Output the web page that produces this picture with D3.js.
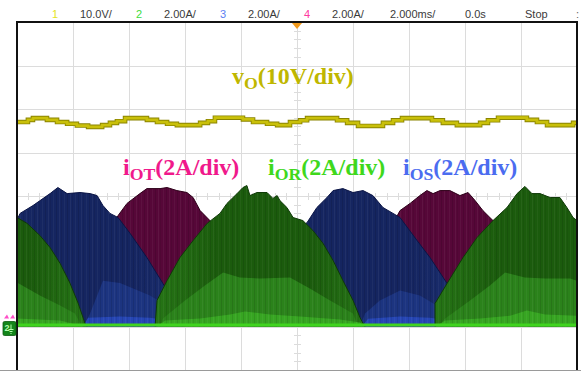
<!DOCTYPE html>
<html>
<head>
<meta charset="utf-8">
<script src="https://cdn.jsdelivr.net/npm/d3@7"></script>
<style>
  html, body { margin: 0; padding: 0; background: #fff; overflow: hidden; }
  svg { display: block; }
</style>
</head>
<body>
<svg id="scope" width="581" height="371"></svg>
<script>
// ---- Scope settings shown in the header ----
const channelIds = ["1", "2", "3", "4"];
const channelScales = ["10.0V/", "2.00A/", "2.00A/", "2.00A/"];
const timebaseLabel = "2.000ms/";
const delayLabel = "0.0s";
const runStateLabel = "Stop";

// ---- Trace labels ----
const traceSymbols = ["v", "i", "i", "i"];
const traceSubscripts = ["O", "OT", "OR", "OS"];
const traceUnits = ["(10V/div)", "(2A/div)", "(2A/div)", "(2A/div)"];

// ---- Vertical / horizontal settings ----
const voltsPerDiv = 10;
const ampsPerDiv = 2;
const msPerDiv = 2;
const timeWindow = [-10, 10];        // ms, 10 divisions
const rectifierPeriod = 10;          // ms, one cycle of the phase currents

// ---- Output voltage vo (V), stepped record, [t ms, V] ----
const voSteps = [
  [-10.0, 57.0], [-9.61, 57.5], [-9.43, 57.9], [-8.93, 57.5], [-8.57, 57.0],
  [-8.21, 56.6], [-7.86, 56.2], [-7.46, 55.9], [-6.96, 56.3], [-6.68, 56.8],
  [-6.43, 57.2], [-6.14, 57.9], [-5.36, 57.5], [-5.0, 57.0], [-4.64, 56.6],
  [-4.29, 56.3], [-3.46, 56.8], [-3.18, 57.2], [-2.93, 58.0], [-1.93, 57.6],
  [-1.57, 57.0], [-1.07, 56.6], [-0.71, 56.3], [-0.25, 57.0], [0.11, 57.4],
  [0.36, 57.9], [1.43, 57.4], [1.79, 56.8], [2.18, 56.1], [3.07, 56.8],
  [3.43, 57.4], [3.75, 57.9], [4.82, 57.4], [5.21, 56.8], [5.71, 56.3],
  [6.54, 56.8], [6.82, 57.4], [7.18, 58.0], [8.21, 57.5], [8.57, 57.0],
  [8.93, 56.3], [9.86, 56.8], [10.0, 56.8]
];

// ---- Phase currents: peak envelope of each conduction pulse, [t ms, A] ----
const iotPeak = [
  [[-8.43, 0], [-8.29, 1.06], [-7.86, 2.11], [-7.39, 3.17], [-6.86, 4.05], [-6.39, 5.1],
   [-6.07, 5.66], [-5.61, 6.11], [-5.36, 6.34], [-4.89, 6.34], [-4.64, 6.39], [-4.29, 6.25],
   [-3.93, 6.16], [-3.71, 5.93], [-3.46, 5.33], [-3.11, 4.87], [-2.57, 3.95], [-2.04, 2.94],
   [-1.5, 1.79], [-1.14, 0.97], [-0.89, 0.37], [-0.75, 0]],
  [[1.57, 0], [1.71, 1.06], [2.14, 2.11], [2.61, 3.17], [3.14, 4.05], [3.68, 5.33],
   [4.04, 5.66], [4.39, 6.02], [4.64, 6.25], [4.86, 6.11], [5.11, 6.25], [5.46, 6.25],
   [5.82, 6.02], [6.11, 6.16], [6.36, 5.79], [6.64, 5.33], [6.89, 5.01], [7.0, 4.87],
   [7.43, 3.95], [7.96, 2.94], [8.5, 1.79], [8.86, 0.97], [9.11, 0.37], [9.25, 0]]
];
const iosPeak = [
  [[-10, 4.9], [-9.89, 5.2], [-9.43, 5.56], [-8.82, 6.11], [-8.54, 6.39], [-8.21, 6.11],
   [-7.75, 6.16], [-7.39, 6.11], [-7.14, 6.02], [-6.93, 5.56], [-6.68, 5.2], [-6.39, 5.01],
   [-5.96, 4.28], [-5.36, 3.17], [-4.79, 1.98], [-4.36, 1.0], [-4.11, 0.3], [-4.0, 0]],
  [[-1.75, 0], [-1.68, 1.06], [-1.25, 2.11], [-0.79, 3.17], [-0.25, 4.05], [0.36, 4.78],
   [0.71, 5.47], [1.07, 5.93], [1.29, 6.25], [1.64, 6.34], [2.0, 6.16], [2.36, 6.25],
   [2.71, 6.02], [3.07, 5.47], [3.43, 5.2], [3.68, 5.01], [4.29, 3.95], [4.75, 3.17],
   [5.36, 1.98], [5.75, 1.06], [6.0, 0.37], [6.1, 0]],
  [[8.25, 0], [8.32, 1.06], [8.75, 2.11], [9.21, 3.17], [9.75, 4.05], [10, 4.4]]
];
const iorPeak = [
  [[-10, 5.01], [-9.64, 4.74], [-9.18, 4.18], [-8.82, 3.63], [-8.46, 2.9], [-8.11, 2.0],
   [-7.82, 1.08], [-7.57, 0.14], [-7.5, 0]],
  [[-5.07, 0], [-5.0, 1.2], [-4.64, 2.11], [-4.18, 3.17], [-3.71, 3.95], [-3.21, 4.74],
   [-2.75, 5.2], [-2.5, 5.66], [-2.14, 6.11], [-1.93, 6.39], [-1.79, 6.48], [-1.68, 6.02],
   [-1.43, 6.16], [-1.07, 6.16], [-0.86, 5.89], [-0.71, 6.02], [-0.61, 5.79], [-0.36, 5.47],
   [-0.14, 5.01], [0.21, 4.87], [0.57, 4.41], [0.93, 3.82], [1.29, 3.03], [1.64, 2.11],
   [2.0, 1.2], [2.25, 0.41], [2.36, 0.14], [2.43, 0]],
  [[4.93, 0], [4.93, 1.06], [5.36, 1.98], [5.93, 3.17], [6.43, 4.09], [7.0, 4.87],
   [7.5, 5.47], [7.86, 6.11], [8.14, 6.44], [8.39, 6.11], [8.68, 6.11], [9.04, 5.93],
   [9.39, 5.93], [9.64, 5.47], [9.86, 5.01], [10, 4.87]]
];

// ---- Mean current band (brighter persistence), [t ms, A] ----
const iosMean = [
  [[-7.61, 0], [-7.39, 0.6], [-6.93, 2.1], [-6.32, 2.0], [-5.25, 1.43], [-4.36, 0.74], [-4.07, 0]],
  [[2.25, 0], [2.43, 0.6], [2.96, 1.2], [3.68, 1.66], [4.39, 1.43], [5.29, 0.74], [5.93, 0]]
];
const iorMean = [
  [[-10, 2.02], [-9.18, 1.43], [-8.46, 0.97], [-7.93, 0.6], [-7.68, 0]],
  [[-4.89, 0], [-4.79, 0.37], [-4.0, 1.2], [-3.29, 1.89], [-2.64, 2.48], [-2.04, 2.25],
   [-1.32, 2.21], [-0.25, 2.25], [0.46, 1.75], [1.18, 1.2], [2.0, 0.6], [2.18, 0]],
  [[5.04, 0], [5.29, 0.37], [6.18, 1.2], [6.89, 1.89], [7.43, 2.48], [8.14, 2.25],
   [8.86, 2.21], [9.75, 2.21], [10, 2.1]]
];

// ---- Low-level ripple floor of each pulse, [t ms, A] ----
const iosFloor = [
  [[-7.64, 0], [-7.46, 0.4], [-6.32, 0.46], [-5.25, 0.4], [-4.36, 0.24], [-4.04, 0]],
  [[2.32, 0], [2.54, 0.36], [3.68, 0.46], [4.75, 0.4], [5.64, 0.24], [6.0, 0]]
];
const iorFloor = [
  [[-10, 0.37], [-8.46, 0.28], [-7.61, 0]],
  [[-5.0, 0], [-4.71, 0.28], [-3.46, 0.37], [-2.39, 0.55], [-1.86, 0.69], [-0.96, 0.55],
   [0.11, 0.46], [1.54, 0.32], [2.25, 0.18], [2.39, 0]],
  [[4.96, 0], [5.29, 0.28], [6.54, 0.37], [7.61, 0.5], [8.21, 0.74], [8.86, 0.55], [10, 0.5]]
];

// ================= drawing =================
const svg = d3.select("#scope");
const W = 581, H = 371;
const frame = { left: 17, right: 577, top: 22, bottom: 370 };

const x = d3.scaleLinear().domain(timeWindow).range([frame.left, frame.right]);
const div = d3.scaleLinear().domain([-4, 4]).range([frame.bottom, frame.top]);
const currentGroundDiv = -3;
const voltageGroundDiv = -4;
const yI = d3.scaleLinear().domain([0, ampsPerDiv])
  .range([div(currentGroundDiv), div(currentGroundDiv + 1)]);
const yV = d3.scaleLinear().domain([0, voltsPerDiv])
  .range([div(voltageGroundDiv), div(voltageGroundDiv + 1)]);

svg.append("rect").attr("width", W).attr("height", H).attr("fill", "#fff");

const defs = svg.append("defs");
defs.append("clipPath").attr("id", "plotClip")
  .append("rect")
  .attr("x", frame.left).attr("y", frame.top)
  .attr("width", frame.right - frame.left).attr("height", frame.bottom - frame.top);

// vertical acquisition streaks laid over the filled pulses
const streak = defs.append("pattern").attr("id", "streaks")
  .attr("patternUnits", "userSpaceOnUse").attr("width", 11).attr("height", 10);
[[1, "#000", 0.10], [4, "#fff", 0.05], [6, "#000", 0.07], [9, "#fff", 0.04]].forEach(([px, c, o]) => {
  streak.append("rect").attr("x", px).attr("y", 0).attr("width", 1).attr("height", 10)
    .attr("fill", c).attr("fill-opacity", o);
});

// ---- header ----
const header = svg.append("g")
  .attr("font-family", "'Liberation Sans', Arial, sans-serif")
  .attr("font-size", 11);
const chColors = ["#e4e41a", "#3ddc3d", "#5b7ef2", "#ff3aa0"];
channelIds.forEach((id, i) => {
  const cx = 55 + 84 * i;
  header.append("text").attr("x", cx).attr("y", 18).attr("text-anchor", "middle")
    .attr("fill", chColors[i]).text(id);
  header.append("text").attr("x", cx + 25).attr("y", 18)
    .attr("fill", "#3a3a3a").text(channelScales[i]);
});
header.append("text").attr("x", 390).attr("y", 18).attr("fill", "#3a3a3a").text(timebaseLabel);
header.append("text").attr("x", 465).attr("y", 18).attr("fill", "#3a3a3a").text(delayLabel);
header.append("text").attr("x", 525).attr("y", 18).attr("fill", "#3a3a3a").text(runStateLabel);
header.append("text").attr("x", 576).attr("y", 18).attr("fill", "#666").text(":");

// ---- graticule ----
const grid = svg.append("g").attr("stroke", "#dcdcdc").attr("stroke-width", 1)
  .attr("shape-rendering", "crispEdges");
d3.range(timeWindow[0] + msPerDiv, timeWindow[1], msPerDiv).forEach(t => {
  grid.append("line").attr("x1", Math.round(x(t)) + 0.5).attr("x2", Math.round(x(t)) + 0.5)
    .attr("y1", frame.top).attr("y2", frame.bottom);
});
d3.range(-3, 4).forEach(d => {
  grid.append("line").attr("y1", Math.round(div(d)) + 0.5).attr("y2", Math.round(div(d)) + 0.5)
    .attr("x1", frame.left).attr("x2", frame.right);
});
// minor ticks on the centre axes
d3.range(-4, 4.001, 0.2).forEach(d => {
  const yy = Math.round(div(d)) + 0.5;
  grid.append("line").attr("x1", x(0) - 3).attr("x2", x(0) + 4).attr("y1", yy).attr("y2", yy);
});
d3.range(timeWindow[0], timeWindow[1] + 0.001, msPerDiv / 5).forEach(t => {
  const xx = Math.round(x(t)) + 0.5;
  grid.append("line").attr("x1", xx).attr("x2", xx).attr("y1", div(0) - 3).attr("y2", div(0) + 4);
});

// ---- shading gradients: pulses look darker in the middle of conduction ----
function pulseGradient(id, pulses, edge, core) {
  const complete = pulses.find(p => p[0][1] === 0 && p[p.length - 1][1] === 0);
  const t0 = complete[0][0], t1 = complete[complete.length - 1][0], w = t1 - t0;
  const span = [-30, 30];
  const off = t => (t - span[0]) / (span[1] - span[0]);
  const g = defs.append("linearGradient").attr("id", id)
    .attr("gradientUnits", "userSpaceOnUse")
    .attr("x1", x(span[0])).attr("x2", x(span[1])).attr("y1", 0).attr("y2", 0);
  const stops = [];
  for (let k = -3; k <= 3; k++) {
    const s = t0 + k * rectifierPeriod;
    stops.push([s, edge], [s + 0.3 * w, core], [s + 0.74 * w, core], [s + w, edge]);
  }
  stops.filter(s => s[0] > span[0] && s[0] < span[1]).forEach(s => {
    g.append("stop").attr("offset", off(s[0])).attr("stop-color", s[1]);
  });
}
pulseGradient("gT", iotPeak, "#64103f", "#560738");
pulseGradient("gS", iosPeak, "#1b2f72", "#152560");
pulseGradient("gR", iorPeak, "#267516", "#1b5b0d");

const area = d3.area()
  .x(d => x(d[0]))
  .y0(yI(0))
  .y1(d => yI(d[1]))
  .curve(d3.curveLinear);
const edgeLine = d3.line()
  .x(d => x(d[0]))
  .y(d => yI(d[1]))
  .curve(d3.curveLinear);

const plot = svg.append("g").attr("clip-path", "url(#plotClip)");

function drawChannel(peak, mean, floor, fill, outline, meanFill, floorFill) {
  const g = plot.append("g");
  g.selectAll(null).data(peak).join("path")
    .attr("d", area).attr("fill", fill);
  if (mean) g.selectAll(null).data(mean).join("path").attr("d", area).attr("fill", meanFill);
  if (floor) g.selectAll(null).data(floor).join("path").attr("d", area).attr("fill", floorFill);
  g.selectAll(null).data(peak).join("path")
    .attr("d", area).attr("fill", "url(#streaks)");
  g.selectAll(null).data(peak).join("path")
    .attr("d", edgeLine).attr("fill", "none")
    .attr("stroke", outline).attr("stroke-width", 1);
}

// channel 4 (iOT) underneath, then 3 (iOS), then 2 (iOR) on top
drawChannel(iotPeak, null, null, "url(#gT)", "#2e0019");
drawChannel(iosPeak, iosMean, iosFloor, "url(#gS)", "#0b1546", "#1c3480", "#2646b4");
drawChannel(iorPeak, iorMean, iorFloor, "url(#gR)", "#0f3a07", "#2b821b", "#37a522");

// zero-level trace
plot.append("line")
  .attr("x1", frame.left).attr("x2", frame.right)
  .attr("y1", yI(0) - 1.5).attr("y2", yI(0) - 1.5)
  .attr("stroke", "#40d41f").attr("stroke-width", 3);

// output voltage trace
const voLine = d3.line().x(d => x(d[0])).y(d => yV(d[1])).curve(d3.curveStepAfter);
plot.append("path").datum(voSteps).attr("d", voLine)
  .attr("fill", "none").attr("stroke", "#8a8400").attr("stroke-width", 4.6);
plot.append("path").datum(voSteps).attr("d", voLine)
  .attr("fill", "none").attr("stroke", "#c9c00a").attr("stroke-width", 2.8);

// ---- frame ----
svg.append("path")
  .attr("d", `M${frame.left},${frame.bottom} V${frame.top} H${frame.right} V${frame.bottom}`)
  .attr("fill", "none").attr("stroke", "#111").attr("stroke-width", 2);
svg.append("line").attr("x1", 0).attr("x2", W).attr("y1", frame.bottom + 0.5).attr("y2", frame.bottom + 0.5)
  .attr("stroke", "#9a9a9a").attr("stroke-width", 1);

// trigger position marker
svg.append("path")
  .attr("d", `M${x(0) - 5},${frame.top + 1} L${x(0) + 5},${frame.top + 1} L${x(0)},${frame.top + 7} Z`)
  .attr("fill", "#f29a1c");

// ground reference marker of channel 2 (channels 3/4 peeking out behind)
const gy = yI(0);
const gm = svg.append("g");
gm.append("path").attr("d", `M4,${gy - 8} l3,-4 l2,4 M10,${gy - 8} l3,-4 l2,4`)
  .attr("fill", "#ff4fc8");
gm.append("rect").attr("x", 3).attr("y", gy - 5).attr("width", 13).attr("height", 14)
  .attr("rx", 1.5).attr("fill", "#13861a").attr("stroke", "#0b5a10").attr("stroke-width", 0.8);
gm.append("text").attr("x", 4.5).attr("y", gy + 4).attr("font-size", 9).attr("font-weight", "bold")
  .attr("font-family", "'Liberation Sans', Arial, sans-serif").attr("fill", "#b6ffb0").text("2");
gm.append("path").attr("d", `M11,${gy - 2} v5 M8.5,${gy + 3} h5 M9.5,${gy + 5} h3 M10.5,${gy + 7} h1`)
  .attr("stroke", "#b6ffb0").attr("stroke-width", 1);

// ---- trace labels ----
const labelColors = ["#bfb700", "#f0198b", "#3fd81c", "#4b6cf0"];
const labelPos = [[232, 84], [123, 175], [268, 175], [403, 175]];
const labelSize = [24, 24, 24, 24];
traceSymbols.forEach((s, i) => {
  const t = svg.append("text")
    .attr("x", labelPos[i][0]).attr("y", labelPos[i][1])
    .attr("font-family", "'Liberation Serif', 'Times New Roman', serif")
    .attr("font-weight", "bold").attr("font-size", labelSize[i])
    .attr("fill", labelColors[i]);
  t.append("tspan").text(s);
  t.append("tspan").attr("dy", 5).attr("font-size", labelSize[i] * 0.74).text(traceSubscripts[i]);
  t.append("tspan").attr("dy", -5).text(traceUnits[i]);
});
</script>
</body>
</html>
